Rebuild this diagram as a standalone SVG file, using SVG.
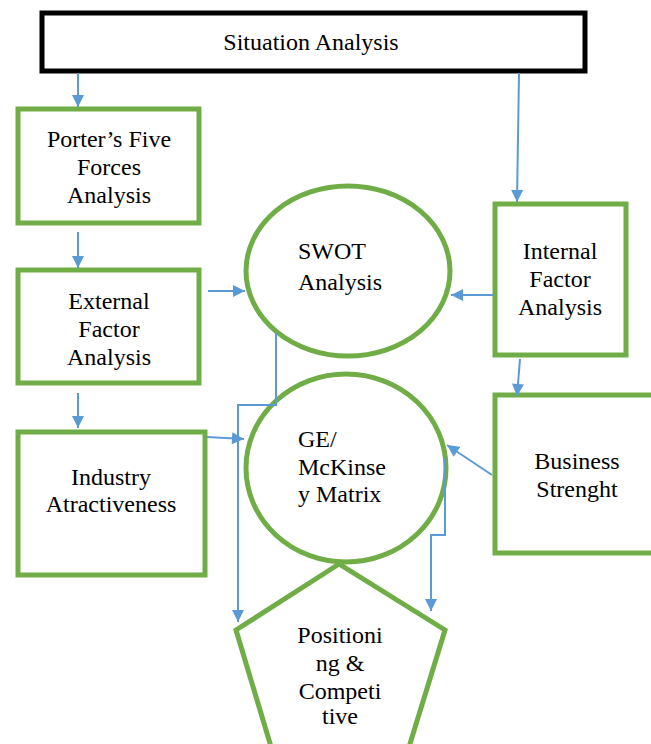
<svg xmlns="http://www.w3.org/2000/svg" width="651" height="744" viewBox="0 0 651 744">
<style>
.box{fill:#fff;stroke:#70AD47;stroke-width:5}
text{font-family:"Liberation Serif",serif;font-size:24px;fill:#000}
.c{text-anchor:middle}
.ln{fill:none;stroke:#5B9BD5;stroke-width:2}
</style>
<defs>
<marker id="ah" markerWidth="13" markerHeight="12" refX="10" refY="5" orient="auto" markerUnits="userSpaceOnUse" viewBox="0 0 10 10">
<path d="M0,0 L10,5 L0,10 z" fill="#5B9BD5"/>
</marker>
</defs>
<rect width="651" height="744" fill="#fff"/>
<g id="situation">
<rect x="42" y="13" width="543" height="58" fill="#fff" stroke="#000" stroke-width="5"/>
<text class="c" x="311" y="50">Situation Analysis</text>
</g>
<g id="porter">
<rect class="box" x="18" y="109" width="181" height="114"/>
<text class="c" x="109" y="147">Porter’s Five</text>
<text class="c" x="109" y="175">Forces</text>
<text class="c" x="109" y="203">Analysis</text>
</g>
<g id="external">
<rect class="box" x="18" y="270" width="181" height="113"/>
<text class="c" x="109" y="309">External</text>
<text class="c" x="109" y="337">Factor</text>
<text class="c" x="109" y="365">Analysis</text>
</g>
<g id="industry">
<rect class="box" x="18" y="432" width="187" height="143"/>
<text class="c" x="111" y="485">Industry</text>
<text class="c" x="111" y="512">Atractiveness</text>
</g>
<g id="swot">
<ellipse class="box" cx="348" cy="271" rx="102" ry="85"/>
<text x="298" y="259">SWOT</text>
<text x="298" y="290">Analysis</text>
</g>
<g id="ge">
<ellipse class="box" cx="346" cy="468" rx="100" ry="94"/>
<text x="298" y="447">GE/</text>
<text x="298" y="475">McKinse</text>
<text x="298" y="502">y Matrix</text>
</g>
<g id="internal">
<rect class="box" x="495" y="204" width="131" height="151"/>
<text class="c" x="560" y="259">Internal</text>
<text class="c" x="560" y="287">Factor</text>
<text class="c" x="560" y="315">Analysis</text>
</g>
<g id="business">
<rect class="box" x="495" y="395" width="162" height="158"/>
<text class="c" x="577" y="469">Business</text>
<text class="c" x="577" y="497">Strenght</text>
</g>
<g id="positioning">
<polygon class="box" points="339,564 236,630 275,760 405,760 445,630"/>
<text class="c" x="340" y="643">Positioni</text>
<text class="c" x="340" y="671">ng &amp;</text>
<text class="c" x="340" y="699">Competi</text>
<text class="c" x="340" y="724">tive</text>
</g>
<g id="connectors">
<line class="ln" x1="78" y1="73" x2="78" y2="107" marker-end="url(#ah)"/>
<line class="ln" x1="519" y1="73" x2="517" y2="202" marker-end="url(#ah)"/>
<line class="ln" x1="78" y1="232" x2="78" y2="268" marker-end="url(#ah)"/>
<line class="ln" x1="208" y1="291" x2="245" y2="291" marker-end="url(#ah)"/>
<line class="ln" x1="494" y1="295" x2="451" y2="295" marker-end="url(#ah)"/>
<line class="ln" x1="78" y1="393" x2="78" y2="428" marker-end="url(#ah)"/>
<line class="ln" x1="207" y1="437" x2="244" y2="439" marker-end="url(#ah)"/>
<line class="ln" x1="520" y1="359" x2="517" y2="396" marker-end="url(#ah)"/>
<line class="ln" x1="492" y1="475" x2="447" y2="445" marker-end="url(#ah)"/>
<polyline class="ln" points="276,333 276,405 238,405 238,622" marker-end="url(#ah)"/>
<polyline class="ln" points="445,458 445,535 431,535 431,611" marker-end="url(#ah)"/>
</g>
</svg>
